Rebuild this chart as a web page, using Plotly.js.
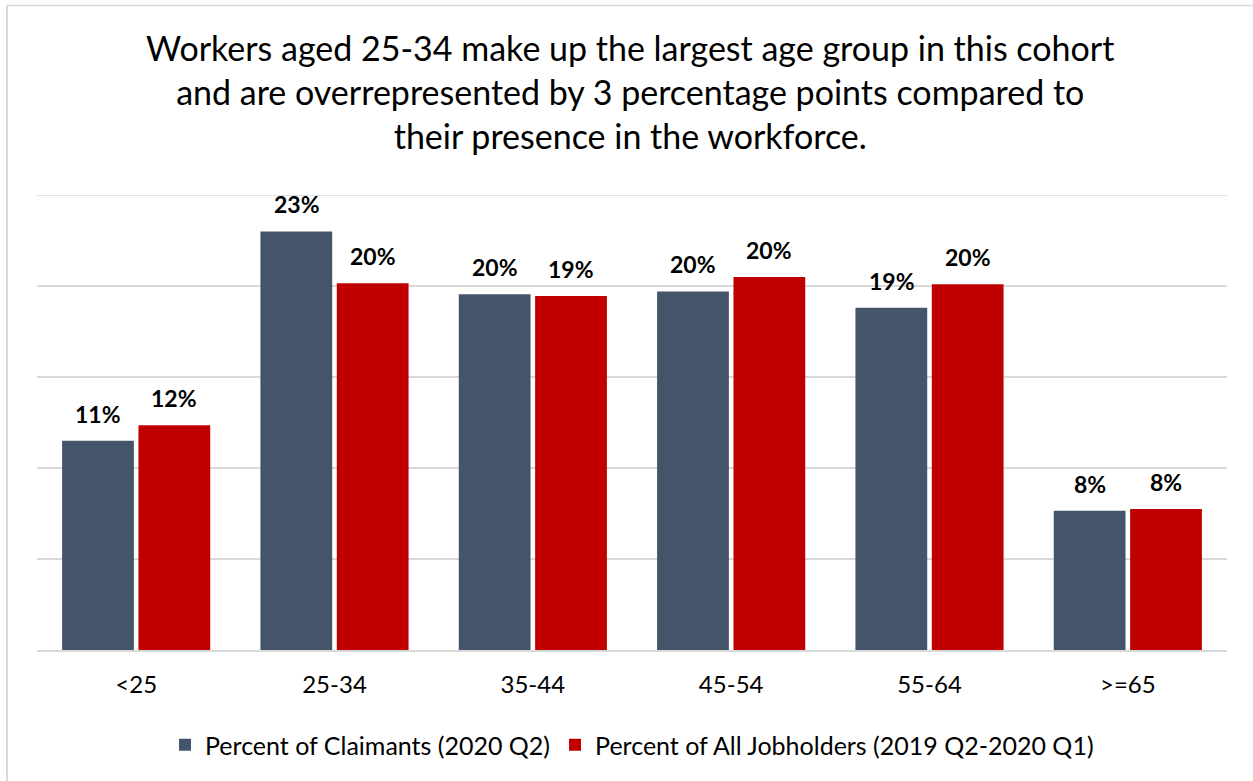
<!DOCTYPE html>
<html>
<head>
<meta charset="utf-8">
<script src="https://cdn.plot.ly/plotly-3.0.1.min.js"></script>
<style>html,body{margin:0;padding:0;background:#fff;}#chart{width:1253px;height:781px;}</style>
</head>
<body>
<div id="chart"></div>
<script>
const categories = ['<25', '25-34', '35-44', '45-54', '55-64', '>=65'];
const claimants = [11.5, 23.0, 19.55, 19.7, 18.8, 7.65];
const jobholders = [12.35, 20.15, 19.45, 20.5, 20.1, 7.75];
const claimantLabels = ['11%', '23%', '20%', '20%', '19%', '8%'];
const jobholderLabels = ['12%', '20%', '19%', '20%', '20%', '8%'];
const seriesNames = ['Percent of Claimants (2020 Q2)', 'Percent of All Jobholders (2019 Q2-2020 Q1)'];
const yTicks = [0, 5, 10, 15, 20, 25];

const FONT = 'Lato, "Open Sans", sans-serif';
const L = 37, R = 26, T = 195, B = 131, W = 1253, H = 781;
const pw = W - L - R, ph = H - T - B;
const px = v => (v - L) / pw;
const py = v => (H - B - v) / ph;

const traces = [
  {type: 'bar', name: seriesNames[0], x: categories, y: claimants,
   marker: {color: '#44546A'}, hoverinfo: 'none'},
  {type: 'bar', name: seriesNames[1], x: categories, y: jobholders,
   marker: {color: '#C00000'}, hoverinfo: 'none'}
];

const labelFont = {family: FONT, size: 23, color: '#000000', weight: 'bold'};
const annotations = [];
[[claimants, claimantLabels, -38], [jobholders, jobholderLabels, 38]].forEach(([vals, labs, dx]) => {
  categories.forEach((c, i) => {
    annotations.push({x: c, y: vals[i], xref: 'x', yref: 'y', text: '<b>' + labs[i] + '</b>',
      showarrow: false, xanchor: 'center', yanchor: 'bottom', xshift: dx, yshift: 11, font: labelFont});
  });
});

const layout = {
  width: W, height: H,
  margin: {l: L, r: R, t: T, b: B, pad: 0},
  paper_bgcolor: '#ffffff', plot_bgcolor: '#ffffff',
  font: {family: FONT, color: '#000000'},
  title: {
    text: 'Workers aged 25-34 make up the largest age group in this cohort<br>and are overrepresented by 3 percentage points compared to<br>their presence in the workforce.',
    font: {family: FONT, size: 34, color: '#000000'},
    x: 0.503, xanchor: 'center', yref: 'container', y: 1 - 61 / H, yanchor: 'top'
  },
  barmode: 'group', bargap: 0.23, bargroupgap: 0.06,
  xaxis: {
    type: 'category', showgrid: false, showline: true, linecolor: '#d9d9d9', linewidth: 2,
    ticks: '', tickfont: {family: FONT, size: 24, color: '#000000'}, ticklabelstandoff: 12, fixedrange: true
  },
  yaxis: {
    range: [0, 25], tickvals: yTicks, showticklabels: false, showgrid: true,
    gridcolor: '#d9d9d9', gridwidth: 1.5, zeroline: false, fixedrange: true
  },
  legend: {
    orientation: 'h', x: 0.5, xanchor: 'center', y: py(745), yanchor: 'middle',
    font: {family: FONT, size: 25, color: '#000000'}, itemwidth: 30, traceorder: 'normal'
  },
  annotations: annotations,
  shapes: [
    {type: 'line', xref: 'paper', yref: 'y', x0: 0, x1: 1, y0: 25, y1: 25, line: {color: '#d9d9d9', width: 1.5}},
    {type: 'line', xref: 'paper', yref: 'paper', x0: px(7), x1: px(7), y0: py(5), y1: py(790), line: {color: '#d9d9d9', width: 2}},
    {type: 'line', xref: 'paper', yref: 'paper', x0: px(6), x1: px(1260), y0: py(5.5), y1: py(5.5), line: {color: '#d9d9d9', width: 1.5}}
  ],
  showlegend: true
};

Plotly.newPlot('chart', traces, layout, {displayModeBar: false, staticPlot: true});
</script>
</body>
</html>
